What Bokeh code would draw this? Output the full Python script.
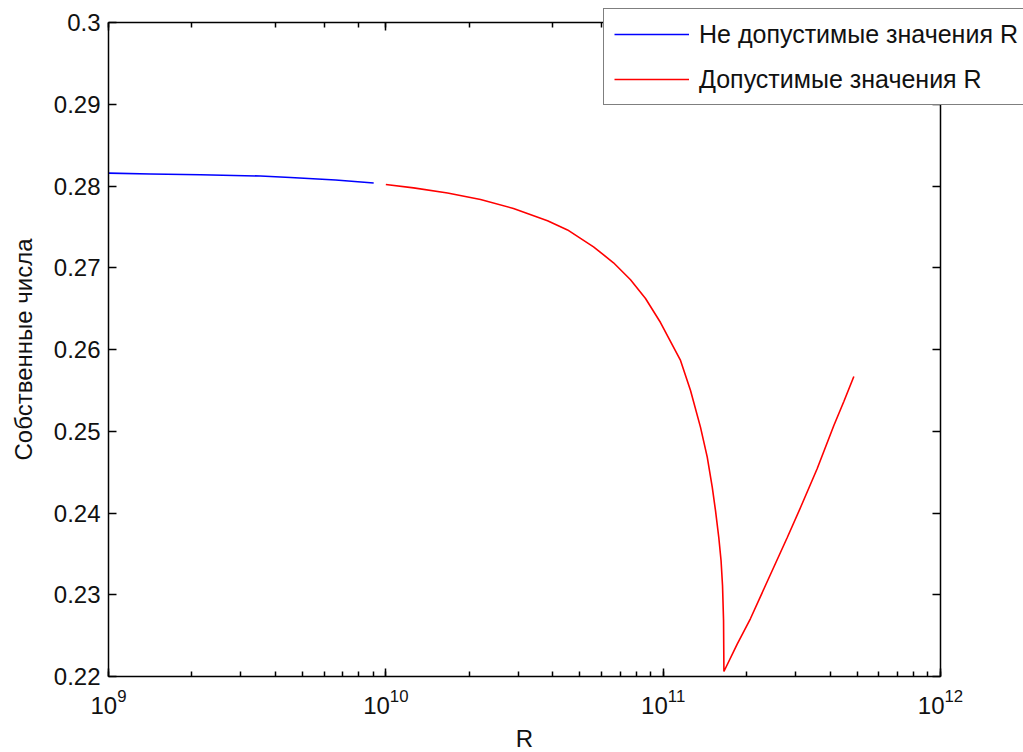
from bokeh.plotting import figure
from bokeh.models import (LogAxis, LinearAxis, FixedTicker, CustomJSTickFormatter,
                          Legend, LegendItem, Range1d)
from bokeh.embed import file_html
from bokeh.resources import INLINE

# Eigenvalues versus R: inadmissible range (blue) and admissible range (red)
r_bad = [1.0e9, 1.417e9, 2.147e9, 3.53e9, 4.53e9, 6.59e9, 9.04e9]
ev_bad = [0.28157, 0.28147, 0.28137, 0.28122, 0.28104, 0.28073, 0.28037]

r_ok = [1.0e10, 1.259e10, 1.669e10, 2.195e10, 2.886e10, 3.828e10, 4.520e10,
        5.609e10, 6.622e10, 7.625e10, 8.637e10, 9.781e10, 1.155e11, 1.255e11,
        1.363e11, 1.442e11, 1.503e11, 1.544e11, 1.587e11, 1.617e11, 1.637e11,
        1.651e11, 1.656e11,
        1.849e11, 2.065e11, 2.373e11, 2.802e11, 3.128e11, 3.594e11, 4.125e11,
        4.482e11, 4.870e11]
ev_ok = [0.28018, 0.27977, 0.27914, 0.27834, 0.27725, 0.27576, 0.27463,
         0.27256, 0.27061, 0.26853, 0.26624, 0.26330, 0.25866, 0.25499,
         0.25050, 0.24683, 0.24316, 0.24031, 0.23700, 0.23419, 0.23113,
         0.22685, 0.22061,
         0.22397, 0.22709, 0.23162, 0.23700, 0.24067, 0.24544, 0.25070,
         0.25364, 0.25670]

x_lim = (1e9, 1e12)
y_lim = (0.22, 0.30)
y_ticks = [0.22, 0.23, 0.24, 0.25, 0.26, 0.27, 0.28, 0.29, 0.30]
legend_labels = ["Не допустимые значения R", "Допустимые значения R"]

FONT = "Liberation Sans"
FS = "24px"

# Canvas size and the box (in pixels) that holds the axes; the data frame
# fills the whole canvas so the legend can overhang the axes box.
W, H = 1023, 752
BOX_L, BOX_R, BOX_T, BOX_B = 108, 940, 22, 676
dec_px = (BOX_R - BOX_L) / 3.0
unit_px = (BOX_B - BOX_T) / (y_lim[1] - y_lim[0])
x_range = Range1d(10 ** (9 - BOX_L / dec_px), 10 ** (9 + (W - BOX_L) / dec_px))
y_range = Range1d(y_lim[0] - (H - BOX_B) / unit_px, y_lim[1] + BOX_T / unit_px)

p = figure(width=W, height=H, x_axis_type="log",
           x_range=x_range, y_range=y_range,
           output_backend="svg", toolbar_location=None,
           min_border=0)
p.background_fill_color = "white"
p.border_fill_color = "white"
p.outline_line_color = None
p.xgrid.visible = False
p.ygrid.visible = False

blue = p.line(r_bad, ev_bad, line_color="#0000ff", line_width=1.6)
red = p.line(r_ok, ev_ok, line_color="#ff0000", line_width=1.6)

yfmt = CustomJSTickFormatter(code="return String(Math.round(tick*100)/100)")
blank = CustomJSTickFormatter(code="return ''")


def style(ax):
    ax.axis_line_color = "black"
    ax.axis_line_width = 1.5
    ax.major_tick_line_color = "black"
    ax.minor_tick_line_color = "black"
    ax.major_tick_line_width = 1.5
    ax.minor_tick_line_width = 1.5
    ax.major_tick_in = 8
    ax.major_tick_out = 0
    ax.minor_tick_in = 5
    ax.minor_tick_out = 0
    ax.major_label_text_font = FONT
    ax.major_label_text_font_size = FS
    ax.major_label_text_color = "#111111"
    ax.axis_label_text_font = FONT
    ax.axis_label_text_font_size = FS
    ax.axis_label_text_font_style = "normal"
    ax.axis_label_text_color = "#111111"


def hide_labels(ax):
    ax.formatter = blank
    ax.major_label_text_font_size = "1px"
    ax.major_label_text_alpha = 0
    ax.major_label_standoff = 0


xa = p.xaxis[0]
style(xa)
xa.fixed_location = y_lim[0]
xa.bounds = x_lim
xa.axis_label = "R"
xa.major_label_standoff = 12
xa.axis_label_standoff = 8

ya = p.yaxis[0]
style(ya)
ya.fixed_location = x_lim[0]
ya.bounds = y_lim
ya.ticker = FixedTicker(ticks=y_ticks)
ya.formatter = yfmt
ya.axis_label = "Собственные числа"
ya.major_label_standoff = 8
ya.axis_label_standoff = 14

top = LogAxis(fixed_location=y_lim[1], bounds=x_lim)
style(top)
hide_labels(top)
p.add_layout(top, "above")

right = LinearAxis(fixed_location=x_lim[1], bounds=y_lim,
                   ticker=FixedTicker(ticks=y_ticks))
style(right)
hide_labels(right)
p.add_layout(right, "right")

legend = Legend(items=[LegendItem(label=legend_labels[0], renderers=[blue]),
                       LegendItem(label=legend_labels[1], renderers=[red])],
                location=(603, H - 105))
legend.label_text_font = FONT
legend.label_text_font_size = "25px"
legend.label_text_color = "#111111"
legend.glyph_width = 75
legend.glyph_height = 30
legend.label_standoff = 10
legend.spacing = 15
legend.padding = 10
legend.margin = 0
legend.border_line_color = "black"
legend.border_line_width = 1.5
legend.background_fill_color = "white"
legend.background_fill_alpha = 1.0
p.add_layout(legend, "center")

open("out.html", "w").write(file_html(p, INLINE))
